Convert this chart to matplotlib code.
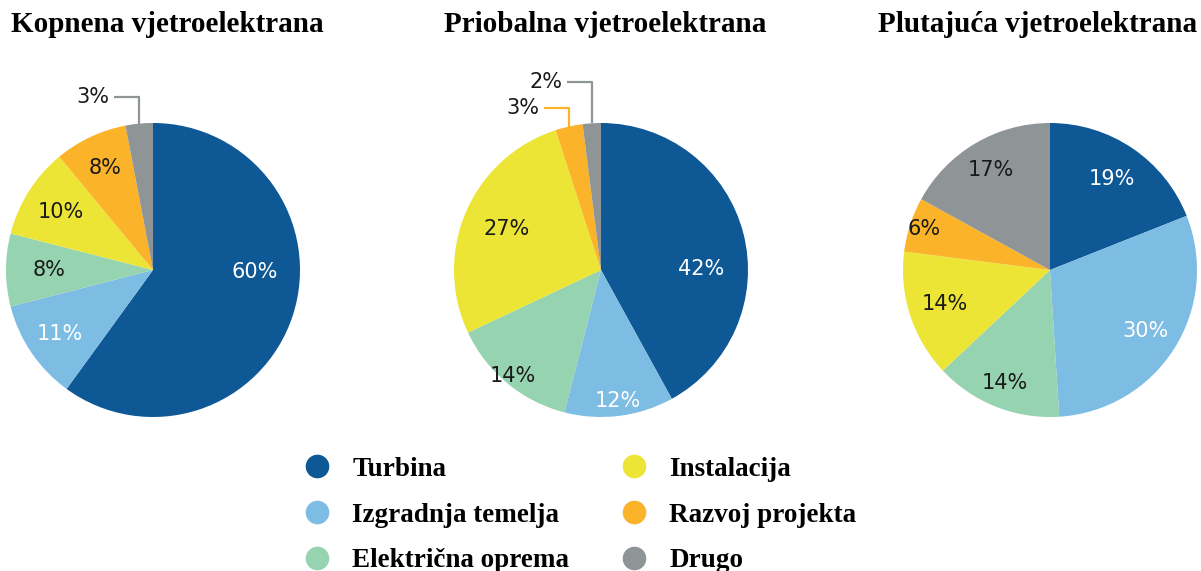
import matplotlib
matplotlib.use('Agg')
import matplotlib.pyplot as plt
import numpy as np
from matplotlib.lines import Line2D

# Cost shares per wind farm type (percent)
categories = ['Turbina', 'Izgradnja temelja', 'Električna oprema',
              'Instalacija', 'Razvoj projekta', 'Drugo']
titles = ['Kopnena vjetroelektrana', 'Priobalna vjetroelektrana',
          'Plutajuća vjetroelektrana']
onshore = [60, 11, 8, 10, 8, 3]
offshore = [42, 12, 14, 27, 3, 2]
floating = [19, 30, 14, 14, 6, 17]

colors = ['#0d5895', '#7dbce3', '#96d3b0', '#ece535', '#fbb32a', '#8f9497']
text_colors = ['white', 'white', '#1a1a1a', '#1a1a1a', '#1a1a1a', '#1a1a1a']

# label placement: radial fraction inside the wedge, or None = callout above the pie
label_r = [
    [0.69, 0.77, 0.71, 0.74, 0.77, None],
    [0.68, 0.90, 0.94, 0.70, None, None],
    [0.75, 0.77, 0.83, 0.75, 0.90, 0.79],
]
# extra rotation (deg) of a label away from the wedge middle
label_turn = [
    [17, 0, 0, 0, 0, 0],
    [-14, 0, 0, 0, 0, 0],
    [0, 0, 0, 0, 0, 0],
]
callout_h = [
    {5: 1.18},
    {4: 1.10, 5: 1.28},
    {},
]

W, H = 1201, 571
fig = plt.figure(figsize=(W / 100, H / 100), dpi=100)

pct_font = dict(family='DejaVu Sans', fontsize=15)
centers_x = [153, 601, 1050]
center_y = 270
radius_px = 147
lim = 1.4
side = 2 * lim * radius_px

for i, values in enumerate([onshore, offshore, floating]):
    cx = centers_x[i]
    ax = fig.add_axes([(cx - side / 2) / W, (H - center_y - side / 2) / H,
                       side / W, side / H])
    wedges, _ = ax.pie(values, colors=colors, startangle=90, counterclock=False,
                       radius=1.0, wedgeprops=dict(linewidth=0))
    ax.set_xlim(-lim, lim)
    ax.set_ylim(-lim, lim)
    ax.set_aspect('equal')
    ax.axis('off')
    for j, w in enumerate(wedges):
        mid = np.deg2rad((w.theta1 + w.theta2) / 2 + label_turn[i][j])
        txt = f'{values[j]}%'
        r = label_r[i][j]
        if r is not None:
            ax.text(r * np.cos(mid), r * np.sin(mid), txt, ha='center',
                    va='center', color=text_colors[j], **pct_font)
        else:
            x0 = np.cos(mid)
            y0 = np.sin(mid)
            h = callout_h[i][j]
            ax.plot([x0, x0, x0 - 0.17], [y0, h, h], color=colors[j],
                    linewidth=1.6, solid_capstyle='butt')
            ax.text(x0 - 0.2, h, txt, ha='right', va='center',
                    color='#1a1a1a', **pct_font)

title_x = [167, 605, 1038]
for t, x in zip(titles, title_x):
    fig.text(x / W, 1 - 24 / H, t, ha='center', va='center',
             family='Liberation Serif', fontweight='bold', fontsize=21)

handles = [Line2D([], [], marker='o', linestyle='none', markersize=16,
                  markerfacecolor=c, markeredgecolor=c) for c in colors]
fig.legend(handles, categories, ncol=2, loc='center',
           bbox_to_anchor=(580 / W, 1 - 515 / H), frameon=False,
           prop=dict(family='Liberation Serif', weight='bold', size=19.5),
           handletextpad=0.8, columnspacing=1.9, labelspacing=0.76,
           handlelength=1.0, borderpad=0)

fig.savefig('out.png', dpi=100, facecolor='white')
